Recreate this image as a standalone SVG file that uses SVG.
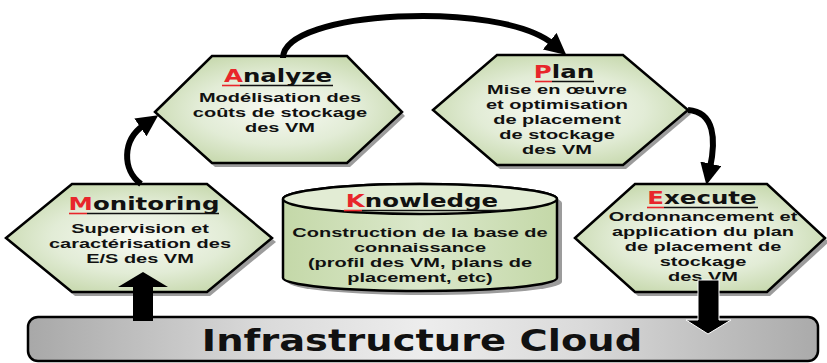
<svg xmlns="http://www.w3.org/2000/svg" width="827" height="363" viewBox="0 0 827 363">
<defs>
<radialGradient id="hexFill" cx="50%" cy="50%" r="60%">
<stop offset="0" stop-color="#f8faf4"/>
<stop offset="0.55" stop-color="#e2ecd6"/>
<stop offset="1" stop-color="#c2d5a6"/>
</radialGradient>
<linearGradient id="cylFill" x1="0" y1="0" x2="1" y2="0">
<stop offset="0" stop-color="#c4d8a8"/>
<stop offset="0.5" stop-color="#dbe8cb"/>
<stop offset="1" stop-color="#c4d8a8"/>
</linearGradient>
<linearGradient id="barFill" x1="0" y1="0" x2="1" y2="0">
<stop offset="0" stop-color="#a8a8a8"/>
<stop offset="0.3" stop-color="#dadada"/>
<stop offset="0.5" stop-color="#ededed"/>
<stop offset="0.7" stop-color="#dadada"/>
<stop offset="1" stop-color="#aaaaaa"/>
</linearGradient>
<marker id="head" viewBox="0 0 10 10" refX="2" refY="5" markerWidth="3.6" markerHeight="3.6" orient="auto" markerUnits="strokeWidth">
<path d="M0,0 L10,5 L0,10 z" fill="#000"/>
</marker>
</defs>
<style>
.shadow{fill:#9c9c9c}
.hex{fill:url(#hexFill);stroke:#000;stroke-width:2.5;stroke-linejoin:miter}
.title{font-family:"DejaVu Sans",Verdana,sans-serif;font-weight:bold;font-size:17px;fill:#111;text-anchor:middle}
.red{fill:#e8262b}
.body{font-family:"Liberation Sans",Arial,sans-serif;font-weight:bold;font-size:13.5px;fill:#111;text-anchor:middle}
.conn{fill:none;stroke:#000;stroke-width:6;marker-end:url(#head)}
.ul{stroke:#111;stroke-width:1.6}
.ulr{stroke:#e8262b;stroke-width:1.6}
</style>

<g id="infrastructure">
<rect x="28" y="317" width="790" height="44" rx="10" fill="url(#barFill)" stroke="#000" stroke-width="2.5"/>
<text x="0" y="351" transform="translate(422,0) scale(1.24,1)" style="font-family:'DejaVu Sans',Verdana,sans-serif;font-weight:bold;font-size:31px;fill:#111;text-anchor:middle">Infrastructure Cloud</text>
</g>

<g id="monitoring">
<polygon class="shadow" points="9,242 75,188 210,188 276,242 210,296 75,296"/>
<polygon class="hex" points="6,238 72,184 207,184 272,238 207,292 72,292"/>
<g transform="translate(144,0) scale(1.44,1)">
<text class="title" x="0" y="210"><tspan class="red">M</tspan>onitoring</text>
</g>
<line class="ulr" x1="69" y1="213.5" x2="87" y2="213.5"/>
<line class="ul" x1="87" y1="213.5" x2="219" y2="213.5"/>
<g transform="translate(140,0) scale(1.48,1)">
<text class="body" x="0" y="233">Supervision et</text>
<text class="body" x="0" y="248">caractérisation des</text>
<text class="body" x="0" y="263">E/S des VM</text>
</g>
</g>

<g id="analyze">
<polygon class="shadow" points="158,116 215,60 350,60 405,116 350,167 215,167"/>
<polygon class="hex" points="155,112 212,56 347,56 402,112 347,163 212,163"/>
<g transform="translate(278,0) scale(1.44,1)">
<text class="title" x="0" y="82"><tspan class="red">A</tspan>nalyze</text>
</g>
<line class="ulr" x1="222" y1="85.5" x2="240" y2="85.5"/>
<line class="ul" x1="240" y1="85.5" x2="333" y2="85.5"/>
<g transform="translate(280,0) scale(1.48,1)">
<text class="body" x="0" y="102">Modélisation des</text>
<text class="body" x="0" y="117">coûts de stockage</text>
<text class="body" x="0" y="132">des VM</text>
</g>
</g>

<g id="plan">
<polygon class="shadow" points="436,114 500,59 626,59 691,114 626,169 500,169"/>
<polygon class="hex" points="433,110 497,55 623,55 688,110 623,165 497,165"/>
<g transform="translate(564,0) scale(1.44,1)">
<text class="title" x="0" y="78"><tspan class="red">P</tspan>lan</text>
</g>
<line class="ulr" x1="535" y1="81.5" x2="552" y2="81.5"/>
<line class="ul" x1="552" y1="81.5" x2="594" y2="81.5"/>
<g transform="translate(557,0) scale(1.48,1)">
<text class="body" x="0" y="94">Mise en œuvre</text>
<text class="body" x="0" y="109">et optimisation</text>
<text class="body" x="0" y="124">de placement</text>
<text class="body" x="0" y="139">de stockage</text>
<text class="body" x="0" y="154">des VM</text>
</g>
</g>

<g id="execute">
<polygon class="shadow" points="578,242 638,188 770,188 829,242 770,296 638,296"/>
<polygon class="hex" points="575,238 635,184 767,184 825,238 767,292 635,292"/>
<g transform="translate(702,0) scale(1.44,1)">
<text class="title" x="0" y="204"><tspan class="red">E</tspan>xecute</text>
</g>
<line class="ulr" x1="647" y1="207.5" x2="664" y2="207.5"/>
<line class="ul" x1="664" y1="207.5" x2="758" y2="207.5"/>
<g transform="translate(703,0) scale(1.48,1)">
<text class="body" x="0" y="221">Ordonnancement et</text>
<text class="body" x="0" y="236">application du plan</text>
<text class="body" x="0" y="251">de placement de</text>
<text class="body" x="0" y="266">stockage</text>
<text class="body" x="0" y="281">des VM</text>
</g>
</g>

<g id="knowledge">
<path class="shadow" d="M288,203 A137,15 0 0 1 562,203 L562,282 A137,13 0 0 1 288,282 Z"/>
<path d="M283,199 A137,15 0 0 1 557,199 L557,278 A137,13 0 0 1 283,278 Z" fill="url(#cylFill)" stroke="#000" stroke-width="2.5"/>
<ellipse cx="420" cy="199" rx="137" ry="15" fill="#e2ecd4" stroke="#000" stroke-width="2.5"/>
<g transform="translate(422,0) scale(1.44,1)">
<text class="title" x="0" y="207"><tspan class="red">K</tspan>nowledge</text>
</g>
<line class="ulr" x1="344" y1="210.5" x2="362" y2="210.5"/>
<line class="ul" x1="362" y1="210.5" x2="501" y2="210.5"/>
<g transform="translate(420,0) scale(1.48,1)">
<text class="body" x="0" y="237">Construction de la base de</text>
<text class="body" x="0" y="252">connaissance</text>
<text class="body" x="0" y="267">(profil des VM, plans de</text>
<text class="body" x="0" y="282">placement, etc)</text>
</g>
</g>

<g id="connectors">
<path class="conn" d="M141,184 C122,170 122,140 144,125"/>
<path class="conn" d="M283,58 C283,10 500,0 553,44"/>
<path class="conn" d="M688,110 C715,112 716,140 710,168"/>
<polygon points="133,321 153,321 153,287 168,287 143,272 118,287 133,287" fill="#000"/>
<polygon points="698,280 719,280 719,320 731,320 708,334 686,320 698,320" fill="#000" stroke="#fff" stroke-width="1"/>
</g>
</svg>
